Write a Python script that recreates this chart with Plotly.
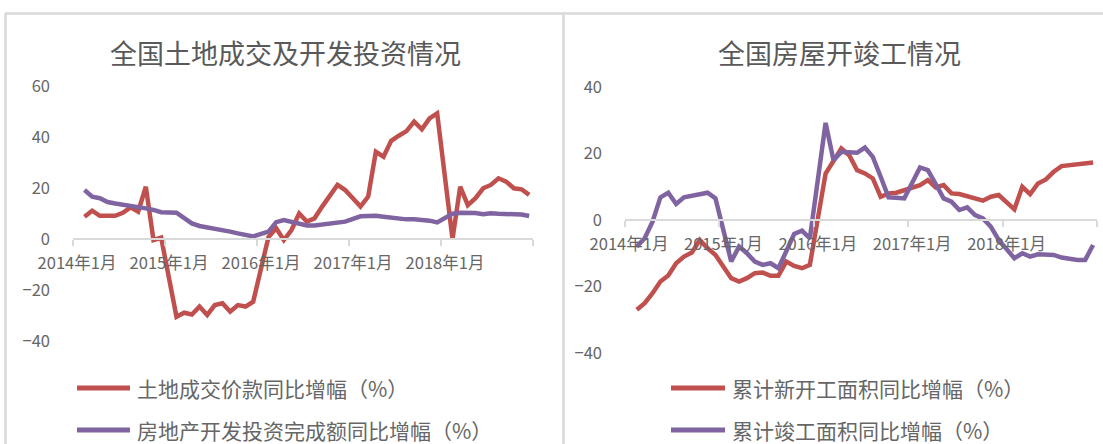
import plotly.graph_objects as go

W, H = 1103, 444

months = [f"{y}年{m}月" for y in range(2014, 2019) for m in range(1, 13)]
tick_labels = ["2014年1月", "2015年1月", "2016年1月", "2017年1月", "2018年1月"]

left_title = "全国土地成交及开发投资情况"
right_title = "全国房屋开竣工情况"

land_name = "土地成交价款同比增幅（%）"
invest_name = "房地产开发投资完成额同比增幅（%）"
start_name = "累计新开工面积同比增幅（%）"
complete_name = "累计竣工面积同比增幅（%）"

land_price = [None, 8.7, 11.1, 9.1, 9.1, 9.1, 10.3, 12.4, 10.7, 20.5, -0.4, 0.5,
              None, -30.5, -28.9, -29.6, -26.5, -29.8, -25.9, -25.2, -28.5, -25.9, -26.5, -24.6,
              None, 0.8, 4.2, -0.4, 3.5, 10.0, 6.8, 8.1, 12.7, 16.6, 21.2, 19.2,
              None, 12.7, 16.6, 34.2, 32.3, 38.5, 40.5, 42.3, 46.0, 43.0, 47.3, 49.3,
              None, 0.0, 20.5, 13.3, 16.0, 19.9, 21.2, 23.8, 22.5, 19.9, 19.5, 17.3]

invest = [None, 19.2, 16.6, 16.0, 14.5, 13.9, 13.5, 13.2, 12.6, 12.0, 11.4, 10.5,
          None, 10.3, 8.1, 6.1, 5.1, 4.6, 4.3, 3.5, 2.9, 2.2, 1.5, 1.0,
          None, 2.9, 6.6, 7.4, 6.6, 5.9, 5.3, 5.3, 5.6, 6.0, 6.3, 6.8,
          None, 8.9, 9.0, 9.1, 8.7, 8.3, 7.9, 7.7, 7.7, 7.5, 7.2, 6.5,
          None, 9.9, 10.3, 10.3, 10.2, 9.7, 10.1, 9.9, 9.9, 9.8, 9.6, 9.0]

new_start = [None, -27.0, -25.0, -22.0, -18.5, -16.7, -13.0, -11.0, -9.8, -6.0, -8.5, -10.5,
             None, -17.5, -18.5, -17.5, -16.0, -15.8, -16.8, -16.8, -12.5, -13.8, -14.5, -13.5,
             None, 14.0, 18.0, 21.5, 19.5, 15.0, 14.0, 12.5, 7.0, 8.0, 8.2, 9.0,
             None, 10.5, 12.0, 9.8, 10.5, 8.0, 7.8, 7.2, 6.6, 5.8, 7.0, 7.5,
             None, 3.2, 10.0, 7.8, 11.0, 12.2, 14.5, 16.2, 16.5, 16.7, 17.0, 17.3]

completed = [None, -8.0, -5.5, -0.5, 6.8, 8.2, 4.8, 6.8, 7.3, 7.6, 8.2, 6.5,
             None, -12.5, -8.0, -10.0, -12.5, -13.5, -13.0, -14.5, -9.4, -4.2, -3.2, -5.5,
             None, 29.2, 18.0, 20.5, 20.3, 20.2, 21.8, 19.0, 13.0, 6.8, 6.7, 6.5,
             None, 15.8, 15.0, 10.8, 6.5, 5.5, 3.0, 3.8, 1.5, 0.5, -2.0, -6.0,
             None, -11.5, -10.0, -11.0, -10.3, -10.4, -10.5, -11.3, -11.7, -12.0, -12.0, -7.5]

RED = "#C0504D"
PURPLE = "#8064A2"
GRAY_TXT = "#666666"
AXIS_GRAY = "#D9D9D9"
FONT = "Noto Sans CJK SC"

xi = list(range(len(months)))
tick_pos = [months.index(t) - 0.5 for t in tick_labels] + [len(months) - 0.5]
tick_txt = tick_labels + [""]


def px(x):
    return x / W


def py(y):
    return 1 - y / H


fig = go.Figure()
fig.add_trace(go.Scatter(x=xi, y=land_price, name=land_name, mode="lines", connectgaps=True,
                         line=dict(color=RED, width=4.5), xaxis="x", yaxis="y"))
fig.add_trace(go.Scatter(x=xi, y=invest, name=invest_name, mode="lines", connectgaps=True,
                         line=dict(color=PURPLE, width=4.5), xaxis="x", yaxis="y"))
fig.add_trace(go.Scatter(x=xi, y=new_start, name=start_name, mode="lines", connectgaps=True,
                         line=dict(color=RED, width=4.5), xaxis="x2", yaxis="y2"))
fig.add_trace(go.Scatter(x=xi, y=completed, name=complete_name, mode="lines", connectgaps=True,
                         line=dict(color=PURPLE, width=4.5), xaxis="x2", yaxis="y2"))

tickfont = dict(family=FONT, size=16.5, color=GRAY_TXT)


def xaxis_cfg(x0, x1, zero_y):
    return dict(domain=[px(x0), px(x1)], range=[-0.5, len(months) - 0.5], anchor="free",
                position=py(zero_y), tickmode="array", tickvals=tick_pos, ticktext=tick_txt,
                ticks="outside", ticklen=6, tickcolor=AXIS_GRAY, tickwidth=1.5,
                showline=True, linecolor=AXIS_GRAY, linewidth=2, showgrid=False,
                zeroline=False, tickfont=tickfont, ticklabelshift=4, ticklabelstandoff=3,
                fixedrange=True, automargin=False)


def yaxis_cfg(y_top, y_bot, rng, dtick):
    return dict(domain=[py(y_bot), py(y_top)], range=rng, tickmode="linear", tick0=rng[0],
                dtick=dtick, showline=False, showgrid=False, zeroline=False,
                tickfont=tickfont, ticks="", ticklabelstandoff=22, fixedrange=True,
                automargin=False)


fig.update_layout(
    width=W, height=H, margin=dict(l=0, r=0, t=0, b=0, pad=0, autoexpand=False),
    paper_bgcolor="white", plot_bgcolor="rgba(0,0,0,0)", showlegend=False,
    xaxis=xaxis_cfg(73, 533, 239),
    yaxis=dict(yaxis_cfg(86, 341, [-40, 60], 20), anchor="x"),
    xaxis2=xaxis_cfg(625, 1097, 220),
    yaxis2=dict(yaxis_cfg(87, 353, [-40, 40], 20), anchor="x2"),
)

# frame lines
shapes = [
    dict(type="line", xref="paper", yref="paper", x0=px(5), x1=1, y0=py(13.5), y1=py(13.5),
         line=dict(color=AXIS_GRAY, width=2.5)),
    dict(type="line", xref="paper", yref="paper", x0=px(5.5), x1=px(5.5), y0=0, y1=py(13.5),
         line=dict(color=AXIS_GRAY, width=2.5)),
    dict(type="line", xref="paper", yref="paper", x0=px(563.5), x1=px(563.5), y0=0, y1=py(13.5),
         line=dict(color=AXIS_GRAY, width=2.5)),
]

annotations = [
    dict(text=left_title, x=px(285), y=py(52), xref="paper", yref="paper", showarrow=False,
         xanchor="center", yanchor="middle", font=dict(family=FONT, size=27, color="#595959")),
    dict(text=right_title, x=px(839), y=py(52), xref="paper", yref="paper", showarrow=False,
         xanchor="center", yanchor="middle", font=dict(family=FONT, size=27, color="#595959")),
]

legend_items = [
    (land_name, RED, 77, 130, 388),
    (invest_name, PURPLE, 77, 130, 430),
    (start_name, RED, 671, 725, 388),
    (complete_name, PURPLE, 671, 725, 430),
]
for name, color, lx0, lx1, ly in legend_items:
    shapes.append(dict(type="line", xref="paper", yref="paper", x0=px(lx0), x1=px(lx1),
                       y0=py(ly), y1=py(ly), line=dict(color=color, width=5)))
    annotations.append(dict(text=name, x=px(lx1 + 5), y=py(ly), xref="paper", yref="paper",
                            showarrow=False, xanchor="left", yanchor="middle",
                            font=dict(family=FONT, size=21, color=GRAY_TXT)))

fig.update_layout(shapes=shapes, annotations=annotations)

fig.write_html("out.html", config={"displayModeBar": False},
               post_script="document.body.style.margin='0';document.body.style.overflow='hidden';")
